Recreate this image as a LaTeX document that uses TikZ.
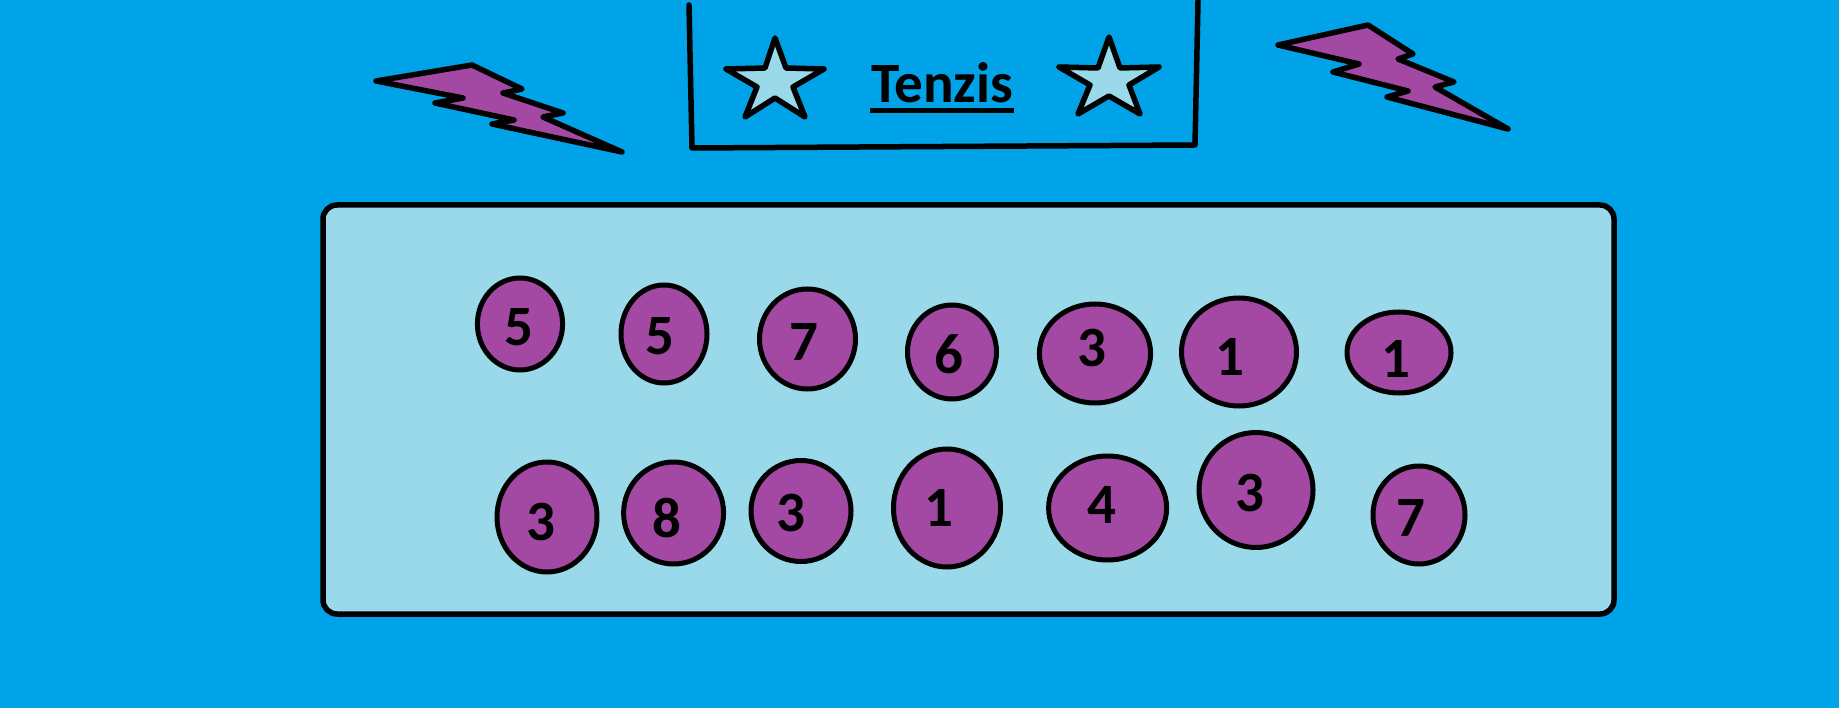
\documentclass[tikz,border=0pt]{standalone}
\usepackage{fontspec}
\setmainfont{Carlito}
\usetikzlibrary{shapes.geometric}
\definecolor{skyb}{HTML}{00A2E8}
\definecolor{paleb}{HTML}{99D9EA}
\definecolor{plum}{HTML}{A349A4}
\tikzset{
  ink/.style={draw=black,line width=5.5pt,line join=round,line cap=round},
  bolt/.style={ink,fill=plum},
  starshape/.style={ink,fill=paleb},
  coin/.style={shape=ellipse,draw=black,line width=5pt,fill=plum,inner sep=0pt},
  digit/.style={font=\bfseries\fontsize{57}{57}\selectfont,inner sep=0pt,text=black},
  titletext/.style={font=\bfseries\fontsize{57}{57}\selectfont,inner sep=0pt,text=black,anchor=base},
}
\newcommand{\coinat}[7]{%
  \node[coin,minimum width=#3*2pt,minimum height=#4*2pt] (c#1) at (#2) {};
  \node[digit] (d#1) at (#7,#5) {#6};
}
\begin{document}
\begin{tikzpicture}[x=1pt,y=-1pt]
\useasboundingbox[fill=skyb] (0,0) rectangle (1839,708);
% title frame
\draw[ink] (689,5) -- (692,148) -- (1195,145) -- (1198,1);
% stars
\draw[starshape] (775,38) -- (786,68) -- (824,69) -- (793,87) -- (805,117) -- (775,98) -- (745,117) -- (757,87) -- (726,69) -- (765,68) -- cycle;
\draw[starshape] (1109,37) -- (1120,68) -- (1159,67) -- (1129,85) -- (1140,114) -- (1109,96) -- (1078,114) -- (1090,85) -- (1059,67) -- (1098,68) -- cycle;
% title
\node[titletext] (title) at (942,103) {Tenzis};
\coordinate (ulL) at (870,111);
\coordinate (ulR) at (1014,111);
\draw[draw=black,line width=5pt] (ulL) -- (ulR);
% bolts
\draw[bolt] (376,81) -- (472,65) -- (522,89) -- (503,93) -- (563,113) -- (543,117) -- (622,152) -- (492,124) -- (514,120) -- (435,103) -- (463,98) -- cycle;
\draw[bolt] (1278,45) -- (1368,25) -- (1413,54) -- (1398,59) -- (1454,82) -- (1435,87) -- (1508,129) -- (1387,97) -- (1408,91) -- (1333,72) -- (1359,64) -- cycle;
% board
\draw[ink,fill=paleb,rounded corners=14pt] (323,205) rectangle (1614,614);
% top row
\coinat{a}{520,324}{42.6}{46}{327}{5}{519}
\coinat{b}{664,334}{43}{49}{336}{5}{660}
\coinat{c}{807.5,339}{48}{50}{342}{7}{804}
\coinat{d}{952,352}{44.5}{47}{354}{6}{949}
\coinat{e}{1095,353.5}{55.6}{49.5}{348}{3}{1092}
\coinat{f}{1239,352}{57.5}{54}{357}{1}{1230}
\coinat{g}{1399,352.5}{52}{40.5}{359}{1}{1396}
% bottom row
\coinat{h}{547,517}{50}{55}{522}{3}{541}
\coinat{i}{673.6,513}{50}{51}{518}{8}{667}
\coinat{j}{801,511}{50}{50.5}{513}{3}{791}
\coinat{k}{947,508}{53.5}{59}{508}{1}{939}
\coinat{l}{1107.6,508}{59}{52}{505}{4}{1101.5}
\coinat{m}{1256,490}{57}{57.5}{493}{3}{1250}
\coinat{n}{1419,515}{46}{49}{518}{7}{1411}
\end{tikzpicture}
\end{document}
